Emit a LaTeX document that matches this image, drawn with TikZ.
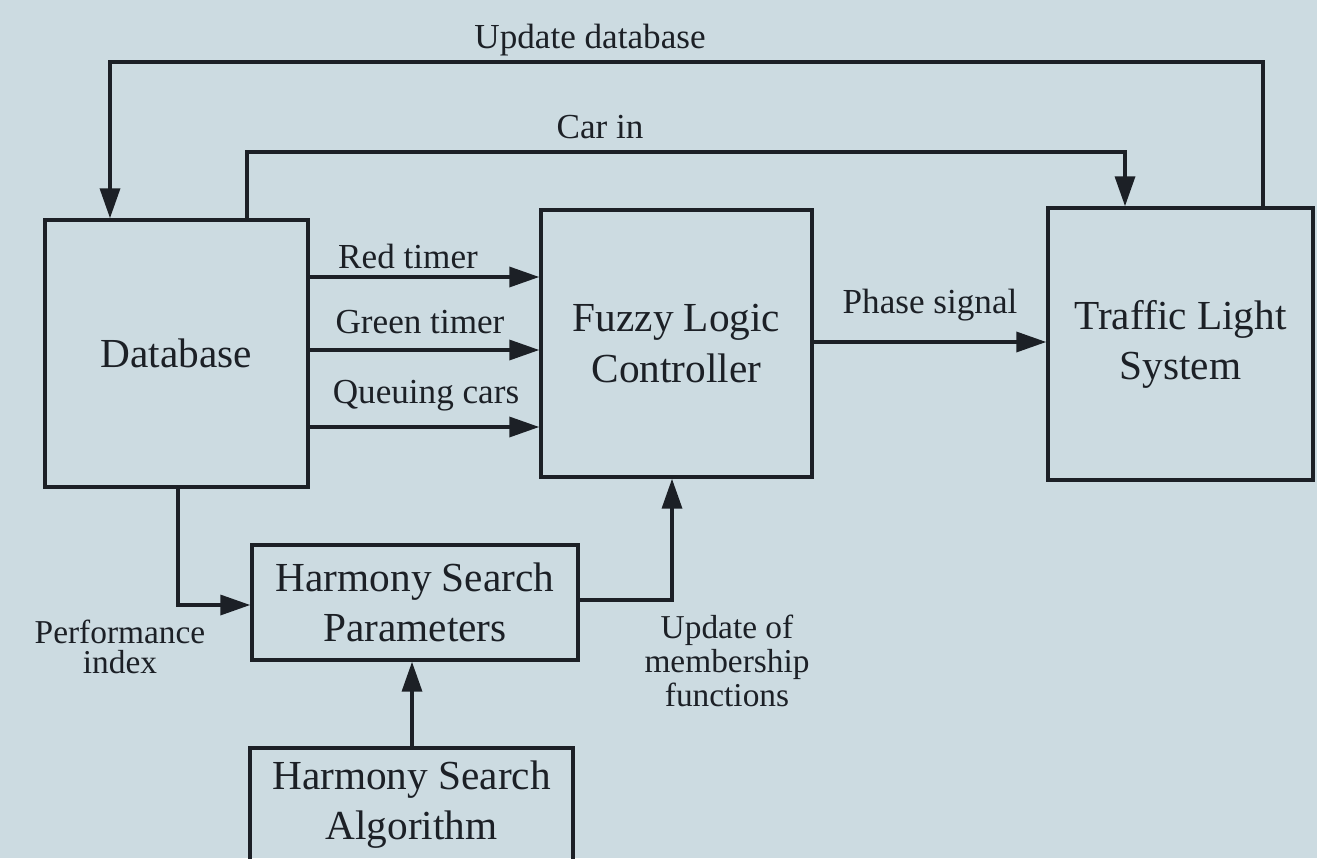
\documentclass[tikz,border=0pt]{standalone}
\usepackage{fontspec}
\setmainfont{Liberation Serif}
\usetikzlibrary{arrows.meta}
\definecolor{bg}{RGB}{204,219,225}
\definecolor{ink}{RGB}{28,32,38}
\begin{document}
\begin{tikzpicture}[x=0.02cm,y=-0.02cm,
  box/.style={draw=ink, line width=2pt, align=center, font=\fontsize{23.5}{28.5}\selectfont, inner sep=0pt, text=ink},
  lbl/.style={font=\fontsize{20}{22}\selectfont, text=ink, align=center, inner sep=0pt},
  arr/.style={draw=ink, line width=2pt, -{Triangle[length=6mm,width=4mm]}},
  ln/.style={draw=ink, line width=2pt}]
\fill[bg] (0,0) rectangle (1317,858);
\useasboundingbox (0,0) rectangle (1317,858);
\clip (0,0) rectangle (1317,858);

% boxes
\node[box, minimum width=5.26cm, minimum height=5.34cm] (db) at (176.5,353.5) {Database};
\node[box, minimum width=5.42cm, minimum height=5.34cm] (flc) at (676.5,343.5) {Fuzzy Logic\\Controller};
\node[box, minimum width=5.3cm, minimum height=5.44cm] (tls) at (1180.5,344) {Traffic Light\\System};
\node[box, minimum width=6.52cm, minimum height=2.3cm] (hsp) at (415,602.5) {Harmony Search\\Parameters};
\node[box, minimum width=6.46cm, minimum height=2.28cm] (hsa) at (411.5,805) {Harmony Search\\Algorithm};

% helper coordinates
\coordinate (ud1) at (1263,62);
\coordinate (ud2) at (110,62);
\coordinate (ci1) at (247,152);
\coordinate (ci2) at (1125,152);
\coordinate (rt) at (0,277);
\coordinate (gt) at (0,350);
\coordinate (qc) at (0,427);
\coordinate (ps) at (0,342);
\coordinate (pi1) at (178,605);
\coordinate (um1) at (672,600);
\coordinate (ha) at (412,0);

% connectors
\draw[arr] (tls.north -| ud1) -- (ud1) -- (ud2) -- (db.north -| ud2);
\draw[arr] (db.north -| ci1) -- (ci1) -- (ci2) -- (tls.north -| ci2);
\draw[arr] (db.east |- rt) -- (flc.west |- rt);
\draw[arr] (db.east |- gt) -- (flc.west |- gt);
\draw[arr] (db.east |- qc) -- (flc.west |- qc);
\draw[arr] (flc.east |- ps) -- (tls.west |- ps);
\draw[arr] (db.south -| pi1) -- (pi1) -- (hsp.west |- pi1);
\draw[arr] (hsp.east |- um1) -- (um1) -- (flc.south -| um1);
\draw[arr] (hsa.north -| ha) -- (hsp.south -| ha);

% labels
\node[lbl] (lud) at (590,40) {Update database};
\node[lbl] (lci) at (600,127) {Car in};
\node[lbl] (lrt) at (408,256) {Red timer};
\node[lbl] (lgt) at (420,322) {Green timer};
\node[lbl] (lqc) at (426,396) {Queuing cars};
\node[lbl] (lps) at (930,305) {Phase signal};
\node[lbl, font=\fontsize{19}{17.5}\selectfont] (lpi) at (120,647) {Performance\\index};
\node[lbl, font=\fontsize{19}{19.5}\selectfont] (lum) at (727,661) {Update of\\membership\\functions};
\end{tikzpicture}
\end{document}
